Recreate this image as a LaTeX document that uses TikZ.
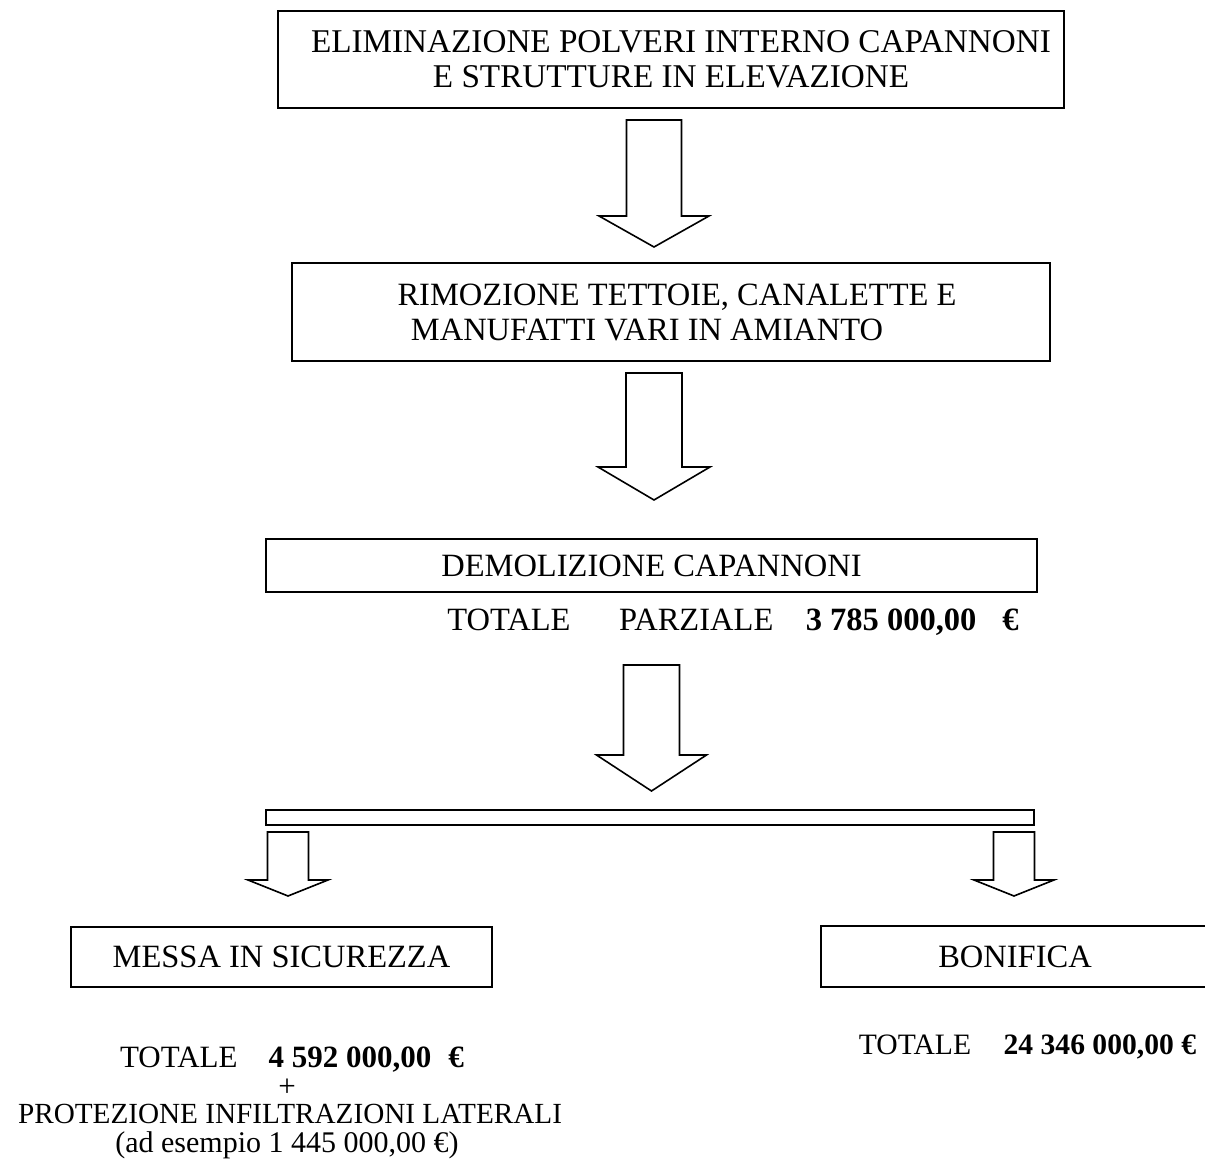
\documentclass[tikz,border=0pt]{standalone}
\usepackage{fontspec}
\setmainfont{Liberation Serif}
\tikzset{
  txt/.style={inner sep=0pt, font=\fontsize{16.25}{17.5}\selectfont},
  small/.style={txt, font=\fontsize{15.5}{17}\selectfont},
  box/.style={txt, draw, line width=1pt, align=center},
  fatline/.style={line width=0.8pt, line join=miter},
}
% block arrow: top point, shaft length, head length, shaft half width, head half width
\newcommand{\fatarrow}[5]{%
  \draw[fatline] (#1) ++({-#4},0) -- ++(0,#2) -- ++({#4-#5},0) -- ++(#5,#3)
    -- ++(#5,{-#3}) -- ++({#4-#5},0) -- ++(0,{-#2}) -- cycle;}
\begin{document}
\begin{tikzpicture}[x=0.5pt, y=-0.5pt]
  \useasboundingbox (0,0) rectangle (1205,1160);
  \node (elim) at (671,59.5) [box, minimum width=393pt, minimum height=48.5pt,
    font=\fontsize{16.6}{17.5}\selectfont]
    {\hspace*{10pt}ELIMINAZIONE POLVERI INTERNO CAPANNONI\\E STRUTTURE IN ELEVAZIONE};
  \node (rimoz) at (671,312) [box, minimum width=379pt, minimum height=49pt]
    {\hspace*{6pt}RIMOZIONE TETTOIE, CANALETTE E\\
     MANUFATTI VARI IN AMIANTO\hspace*{24pt}};
  \node (demol) at (651.5,565.5) [box, minimum width=385.5pt, minimum height=26.5pt]
    {DEMOLIZIONE CAPANNONI};
  \node (parz) at (733,622) [txt]
    {TOTALE\hspace{1.5em}PARZIALE\hspace{1em}\textbf{3 785 000,00\hspace{0.8em}€}};
  \node (bar) at (650,817.5) [box, minimum width=384pt, minimum height=7.5pt] {};
  \node (messa) at (281.5,957) [box, minimum width=210.5pt, minimum height=30pt]
    {MESSA IN SICUREZZA};
  \node (bonif) at (1015,956.5) [box, minimum width=194pt, minimum height=30.5pt]
    {BONIFICA};
  \node (totmessa) at (292,1060) [small]
    {TOTALE\hspace{1em}\textbf{4 592 000,00\hspace{0.55em}€}};
  \node (piu) at (287,1088) [small] {+};
  \node (protez) at (290,1114) [txt, font=\fontsize{14.6}{16}\selectfont]
    {PROTEZIONE INFILTRAZIONI LATERALI};
  \node (esempio) at (287,1145) [txt, font=\fontsize{15}{16}\selectfont]
    {(ad esempio 1 445 000,00 €)};
  \node (totbonif) at (1027.5,1047) [txt, font=\fontsize{14.8}{16}\selectfont]
    {TOTALE\hspace{1.1em}\textbf{24 346 000,00 €}};
  % arrows
  \coordinate (a1) at (654,120); \coordinate (a2) at (654,373);
  \coordinate (a3) at (651.5,665);
  \coordinate (a4) at (288,832); \coordinate (a5) at (1014,832);
  \fatarrow{a1}{96}{31}{27.5}{55}
  \fatarrow{a2}{94}{33}{28}{56}
  \fatarrow{a3}{90}{36}{28}{55}
  \fatarrow{a4}{48}{16}{20.5}{40}
  \fatarrow{a5}{48}{16}{20.5}{40}
\end{tikzpicture}
\end{document}
